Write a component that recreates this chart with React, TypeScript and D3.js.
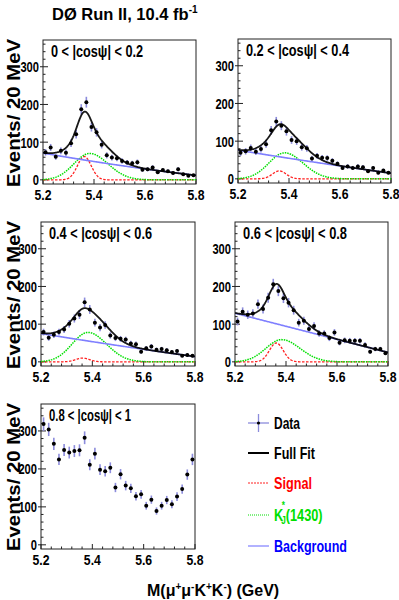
import React from 'react';
import * as d3 from 'd3';

// bin centres, 20 MeV bins from 5.2 to 5.8 GeV
const massCenters = [
  5.21, 5.23, 5.25, 5.27, 5.29, 5.31, 5.33, 5.35, 5.37, 5.39,
  5.41, 5.43, 5.45, 5.47, 5.49, 5.51, 5.53, 5.55, 5.57, 5.59,
  5.61, 5.63, 5.65, 5.67, 5.69, 5.71, 5.73, 5.75, 5.77, 5.79
];

const panelLabels = [
  '0 < |cos\u03c8| < 0.2',
  '0.2 < |cos\u03c8| < 0.4',
  '0.4 < |cos\u03c8| < 0.6',
  '0.6 < |cos\u03c8| < 0.8',
  '0.8 < |cos\u03c8| < 1'
];

const counts02 = [73, 86, 61, 77, 72, 97, 121, 187, 206, 140, 126, 93, 65, 59, 57, 50, 46, 44, 47, 27, 28, 33, 20, 26, 23, 18, 28, 15, 11, 12];
const counts24 = [69, 73, 82, 72, 79, 92, 129, 152, 141, 126, 103, 100, 84, 81, 54, 61, 56, 55, 48, 40, 29, 33, 29, 33, 31, 20, 29, 16, 22, 16];
const counts46 = [79, 64, 72, 79, 86, 101, 115, 125, 158, 139, 104, 91, 98, 70, 63, 61, 59, 49, 47, 27, 36, 41, 32, 34, 31, 26, 29, 16, 18, 16];
const counts68 = [107, 133, 125, 128, 153, 140, 170, 206, 188, 169, 157, 137, 104, 109, 87, 95, 75, 75, 63, 78, 51, 57, 56, 56, 56, 45, 27, 34, 34, 23];
const counts81 = [318, 304, 266, 225, 250, 243, 247, 249, 282, 211, 240, 198, 194, 203, 151, 186, 156, 149, 128, 133, 103, 119, 89, 103, 118, 107, 127, 147, 185, 225];

const panelCounts = [counts02, counts24, counts46, counts68, counts81];

// fit components for the first four panels
const signalPeak = [62, 21, 10, 50];
const kstarPeak = [70, 69, 78, 59];
const bkgStart = [71, 76, 75, 129];
const bkgEnd = [12, 15, 14, 25];
const bkgSag = [12, 5, 5, 0];

const yTicks = [0, 100, 200, 300];
const yMinor = d3.range(0, 361, 20);
const xTicks = [5.2, 5.4, 5.6, 5.8];
const xMinor = d3.range(5.2, 5.801, 0.04);

const frames = [
  { x: 43, y: 40, w: 153, h: 144 },
  { x: 238, y: 39, w: 153, h: 144 },
  { x: 41, y: 222, w: 154, h: 144 },
  { x: 235, y: 222, w: 153, h: 144 },
  { x: 41, y: 404, w: 154, h: 145 }
];
const labelWidths = [92, 103, 103, 104, 82];

const FONT = '"Liberation Sans", Arial, Helvetica, sans-serif';

const signal = (m: number, i: number) => signalPeak[i] * Math.exp(-0.5 * ((m - 5.362) / 0.027) ** 2);
const kstar = (m: number, i: number) => {
  const s = m < 5.383 ? 0.062 : 0.072;
  return kstarPeak[i] * Math.exp(-0.5 * ((m - 5.383) / s) ** 2);
};
const bkg = (m: number, i: number) => {
  const t = (m - 5.2) / 0.6;
  return bkgStart[i] + (bkgEnd[i] - bkgStart[i]) * t - bkgSag[i] * t * (1 - t);
};

const curveGrid = d3.range(5.2, 5.8001, 0.003);

const Panel = ({ idx }: { idx: number }) => {
  const f = frames[idx];
  const x = d3.scaleLinear().domain([5.2, 5.8]).range([f.x, f.x + f.w]);
  const y = d3.scaleLinear().domain([-11, 371]).range([f.y + f.h, f.y]);
  const counts = panelCounts[idx];
  const hasFit = idx < 4;

  const line = (fn: (m: number) => number) =>
    d3.line<number>().x(m => x(m)).y(m => y(fn(m)))(curveGrid) || '';

  return (
    <g>
      <defs>
        <clipPath id={`clip${idx}`}>
          <rect x={f.x} y={f.y} width={f.w} height={f.h} />
        </clipPath>
      </defs>
      <rect x={f.x} y={f.y} width={f.w} height={f.h} fill="white" stroke="#222" strokeWidth={1} />

      {/* axis ticks */}
      {yMinor.map(v => (
        <line key={'ym' + v} x1={f.x} x2={f.x + (v % 100 === 0 ? 5 : 2.5)} y1={y(v)} y2={y(v)} stroke="#222" strokeWidth={1} />
      ))}
      {yTicks.map(v => (
        <g key={'yt' + v}>
          <line x1={f.x - 3} x2={f.x} y1={y(v)} y2={y(v)} stroke="#222" strokeWidth={1} />
          <text x={f.x - 4} y={y(v) + 5.5} textAnchor="end" fontSize={15.5} fontWeight="bold" fontFamily={FONT}
            textLength={String(v).length * 6.2} lengthAdjust="spacingAndGlyphs">{v}</text>
        </g>
      ))}
      {xMinor.map((v, k) => (
        <line key={'xm' + k} x1={x(v)} x2={x(v)} y1={f.y + f.h} y2={f.y + f.h - (k % 5 === 0 ? 5 : 2.5)} stroke="#222" strokeWidth={1} />
      ))}
      {xTicks.map(v => (
        <text key={'xt' + v} x={x(v)} y={f.y + f.h + 16} textAnchor="middle" fontSize={14.5} fontWeight="bold" fontFamily={FONT}
          textLength={17} lengthAdjust="spacingAndGlyphs">{v.toFixed(1)}</text>
      ))}

      <g clipPath={`url(#clip${idx})`}>
        {hasFit && (
          <g fill="none">
            <path d={line(m => signal(m, idx))} stroke="#ff2020" strokeWidth={1.3} strokeDasharray="2.5,1.5" />
            <path d={line(m => kstar(m, idx))} stroke="#00e000" strokeWidth={1.5} strokeDasharray="1.5,1" />
            <path d={line(m => bkg(m, idx))} stroke="#7f7fff" strokeWidth={1.6} />
          </g>
        )}
        {counts.map((n, k) => {
          const e = Math.sqrt(n);
          return (
            <g key={k}>
              <line x1={x(massCenters[k])} x2={x(massCenters[k])} y1={y(n - e)} y2={y(n + e)} stroke="#8c8cdc" strokeWidth={1.6} />
              <circle cx={x(massCenters[k])} cy={y(n)} r={2} fill="#000" />
            </g>
          );
        })}
        {hasFit && (
          <path d={line(m => signal(m, idx) + kstar(m, idx) + bkg(m, idx))} fill="none" stroke="#000" strokeWidth={1.8} strokeOpacity={0.9} />
        )}
      </g>

      <text x={f.x + 8} y={f.y + 17} fontSize={16} fontWeight="bold" fontFamily={FONT}
        textLength={labelWidths[idx]} lengthAdjust="spacingAndGlyphs">{panelLabels[idx]}</text>
    </g>
  );
};

const legendRows = [
  { label: 'Data', color: '#000', y: 423, width: 26 },
  { label: 'Full Fit', color: '#000', y: 453, width: 41 },
  { label: 'Signal', color: '#ff0000', y: 483, width: 38 },
  { label: 'Kstar', color: '#00e000', y: 515, width: 49 },
  { label: 'Background', color: '#0000ff', y: 546, width: 73 }
];

const Legend = () => {
  const lx1 = 248, lx2 = 269, tx = 274;
  return (
    <g fontFamily={FONT} fontWeight="bold" fontSize={17}>
      {/* Data marker */}
      <line x1={lx1} x2={lx2} y1={legendRows[0].y} y2={legendRows[0].y} stroke="#8c8cdc" strokeWidth={1.3} />
      <line x1={(lx1 + lx2) / 2} x2={(lx1 + lx2) / 2} y1={legendRows[0].y - 9} y2={legendRows[0].y + 9} stroke="#8c8cdc" strokeWidth={1.3} />
      <circle cx={(lx1 + lx2) / 2} cy={legendRows[0].y} r={1.6} fill="#000" />
      <line x1={lx1} x2={lx2} y1={legendRows[1].y} y2={legendRows[1].y} stroke="#000" strokeWidth={2} />
      <line x1={lx1} x2={lx2} y1={legendRows[2].y} y2={legendRows[2].y} stroke="#ff2020" strokeWidth={1} strokeDasharray="2,1" />
      <line x1={lx1} x2={lx2} y1={legendRows[3].y} y2={legendRows[3].y} stroke="#00e000" strokeWidth={1} strokeDasharray="1,1" />
      <line x1={lx1} x2={lx2} y1={legendRows[4].y} y2={legendRows[4].y} stroke="#7f7fff" strokeWidth={1.2} />

      {legendRows.map((r, k) =>
        r.label === 'Kstar' ? (
          <text key={k} fill={r.color} transform={`translate(${tx},${r.y + 6}) scale(0.75,1)`}>
            K<tspan fontSize={11} dx={-2} dy={-12}>*</tspan>
            <tspan fontSize={11} dx={-5} dy={15}>J</tspan>
            <tspan dy={-3}>(1430)</tspan>
          </text>
        ) : (
          <text key={k} x={tx} y={r.y + 6} fill={r.color} textLength={r.width} lengthAdjust="spacingAndGlyphs">{r.label}</text>
        )
      )}
    </g>
  );
};

export default function App() {
  return (
    <svg width={399} height={600} style={{ position: 'absolute', left: 0, top: 0, background: 'white' }}>
      <rect width={399} height={600} fill="white" />
      <text x={52} y={20} fontSize={16.5} fontWeight="bold" fontFamily={FONT}>
        D{'\u00d8'} Run II, 10.4 fb<tspan fontSize={10} dy={-7}>-1</tspan>
      </text>

      {frames.map((f, i) => <Panel key={i} idx={i} />)}

      {[frames[0], frames[2], frames[4]].map((f, i) => (
        <text key={'yl' + i} transform={`translate(20,${f.y - 1}) rotate(-90)`} textAnchor="end"
          fontSize={18} fontWeight="bold" fontFamily={FONT} textLength={148} lengthAdjust="spacingAndGlyphs">
          Events/ 20 MeV
        </text>
      ))}

      <text x={147} y={596} fontSize={16} fontWeight="bold" fontFamily={FONT}>
        M({'\u03bc'}<tspan fontSize={10} dy={-6}>+</tspan><tspan dy={6}>{'\u03bc'}</tspan><tspan fontSize={10} dy={-6}>-</tspan><tspan dy={6}>K</tspan><tspan fontSize={10} dy={-6}>+</tspan><tspan dy={6}>K</tspan><tspan fontSize={10} dy={-6}>-</tspan><tspan dy={6}>) (GeV)</tspan>
      </text>

      <Legend />
    </svg>
  );
}
